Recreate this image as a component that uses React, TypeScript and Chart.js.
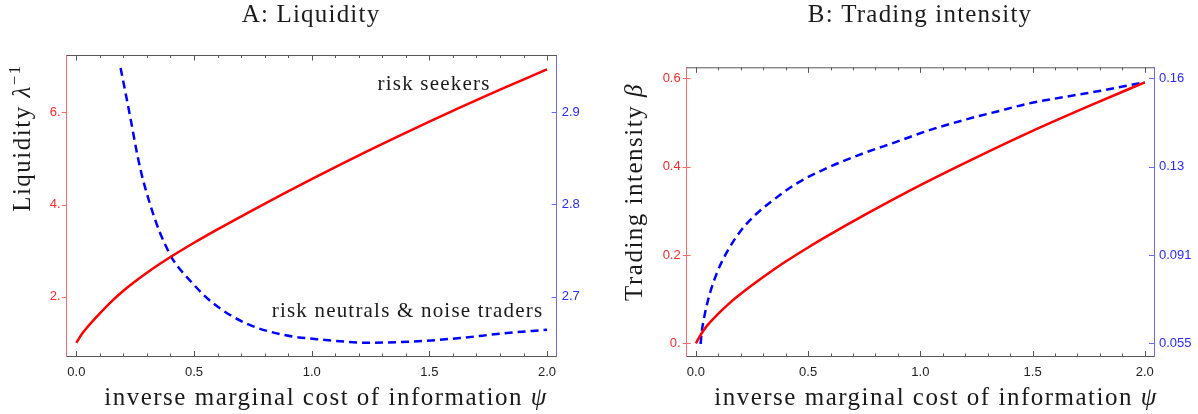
import React, { useEffect, useRef } from "react";
import { Chart, registerables } from "chart.js";

Chart.register(...registerables);

// ---------- shared ----------
const psiTickValues = [0, 0.5, 1, 1.5, 2];
const psiTickLabels = ["0.0", "0.5", "1.0", "1.5", "2.0"];

// ---------- Panel A: Liquidity ----------
const liqSeekersPsi = [0, 0.025, 0.05, 0.1, 0.15, 0.2, 0.3, 0.4, 0.5, 0.6, 0.75, 1.0, 1.25, 1.5, 1.75, 2.0];
const liqSeekers = [1.0, 1.2, 1.36, 1.64, 1.9, 2.13, 2.52, 2.86, 3.17, 3.46, 3.88, 4.55, 5.19, 5.8, 6.38, 6.93];
const liqNeutralPsi = [0.188, 0.212, 0.234, 0.255, 0.276, 0.297, 0.326, 0.354, 0.382, 0.403, 0.495, 0.58, 0.72, 0.89, 1.06, 1.23, 1.415, 1.63, 1.81, 2.0];
const liqNeutral = [2.948, 2.917, 2.888, 2.859, 2.834, 2.814, 2.79, 2.77, 2.754, 2.743, 2.714, 2.693, 2.671, 2.658, 2.653, 2.65, 2.651, 2.655, 2.66, 2.664];
const liqRedTickValues = [2, 4, 6];
const liqRedTickLabels = ["2.", "4.", "6."];
const liqBlueTickValues = [2.7, 2.8, 2.9];
const liqBlueTickLabels = ["2.7", "2.8", "2.9"];

// ---------- Panel B: Trading intensity ----------
const tiSeekersPsi = [0, 0.025, 0.05, 0.1, 0.15, 0.2, 0.3, 0.4, 0.5, 0.6, 0.75, 1.0, 1.25, 1.5, 1.75, 2.0];
const tiSeekers = [0, 0.022, 0.04, 0.067, 0.091, 0.112, 0.15, 0.185, 0.217, 0.247, 0.29, 0.358, 0.421, 0.481, 0.537, 0.591];
const tiNeutralPsi = [0.021, 0.025, 0.04, 0.062, 0.092, 0.122, 0.151, 0.196, 0.255, 0.344, 0.448, 0.596, 0.745, 0.893, 1.041, 1.19, 1.338, 1.486, 1.635, 1.783, 2.0];
const tiNeutral = [0.0547, 0.0588, 0.067, 0.0752, 0.0833, 0.0894, 0.0942, 0.1004, 0.1065, 0.1133, 0.1201, 0.1269, 0.1324, 0.1371, 0.1419, 0.1459, 0.1494, 0.1528, 0.1553, 0.1576, 0.1614];
const tiRedTickValues = [0, 0.2, 0.4, 0.6];
const tiRedTickLabels = ["0.", "0.2", "0.4", "0.6"];
const tiBlueTickValues = [0.055, 0.091, 0.127, 0.163];
const tiBlueTickLabels = ["0.055", "0.091", "0.13", "0.16"];

// ---------- styling ----------
const SERIF = '"Liberation Serif", "DejaVu Serif", serif';
const SANS = '"Liberation Sans", Arial, sans-serif';
const RED = "rgb(255,0,0)";
const BLUE = "rgb(0,0,255)";
const RED_AXIS = "rgb(255,105,105)";
const BLUE_AXIS = "rgb(105,105,255)";
const RED_TEXT = "rgb(255,40,40)";
const BLUE_TEXT = "rgb(40,40,255)";
const FRAME = "#555555";
const TEXT = "#1a1a1a";

type Run = { text: string; font: string; dy?: number };

function drawRich(ctx: CanvasRenderingContext2D, runs: Run[], cx: number, y: number, spacing: number) {
  ctx.letterSpacing = spacing + "px";
  let w = 0;
  const widths = runs.map((r) => {
    ctx.font = r.font;
    const m = ctx.measureText(r.text).width;
    w += m;
    return m;
  });
  let x = cx - w / 2;
  ctx.textAlign = "left";
  ctx.textBaseline = "alphabetic";
  runs.forEach((r, i) => {
    ctx.font = r.font;
    ctx.fillText(r.text, x, y + (r.dy || 0));
    x += widths[i];
  });
  ctx.letterSpacing = "0px";
}

type Ann = { text: string; x: number; y: number };

type PanelCfg = {
  title: string;
  titleX: number;
  xTitle: Run[];
  xTitleX: number;
  yTitle: Run[];
  yTitleX: number;
  yTitleY: number;
  seekersPsi: number[];
  seekers: number[];
  neutralPsi: number[];
  neutral: number[];
  yMin: number;
  yMax: number;
  y2Min: number;
  y2Max: number;
  redTicks: number[];
  redLabels: string[];
  blueTicks: number[];
  blueLabels: string[];
  top: number;
  leftW: number;
  rightW: number;
  redTickIn: number;
  redTickOut: number;
  annotations: Ann[];
};

const AX_FONT = 25;

const panelA: PanelCfg = {
  title: "A: Liquidity",
  titleX: 311,
  xTitle: [
    { text: "inverse marginal cost of information ", font: `${AX_FONT}px ${SERIF}` },
    { text: "ψ", font: `italic ${AX_FONT}px ${SERIF}` },
  ],
  xTitleX: 326,
  yTitle: [
    { text: "Liquidity ", font: `${AX_FONT}px ${SERIF}` },
    { text: "λ", font: `italic ${AX_FONT}px ${SERIF}` },
    { text: "−1", font: `17px ${SERIF}`, dy: -10 },
  ],
  yTitleX: 30,
  yTitleY: 138,
  seekersPsi: liqSeekersPsi,
  seekers: liqSeekers,
  neutralPsi: liqNeutralPsi,
  neutral: liqNeutral,
  yMin: 0.703,
  yMax: 7.243,
  y2Min: 2.635,
  y2Max: 2.962,
  redTicks: liqRedTickValues,
  redLabels: liqRedTickLabels,
  blueTicks: liqBlueTickValues,
  blueLabels: liqBlueTickLabels,
  top: 55,
  leftW: 66.7,
  rightW: 599 - 556.7,
  redTickIn: 0,
  redTickOut: 5,
  annotations: [
    { text: "risk seekers", x: 1.52, y: 6.48 },
    { text: "risk neutrals & noise traders", x: 1.407, y: 1.566 },
  ],
};

const panelB: PanelCfg = {
  title: "B: Trading intensity",
  titleX: 321,
  xTitle: [
    { text: "inverse marginal cost of information ", font: `${AX_FONT}px ${SERIF}` },
    { text: "ψ", font: `italic ${AX_FONT}px ${SERIF}` },
  ],
  xTitleX: 337,
  yTitle: [
    { text: "Trading intensity ", font: `${AX_FONT}px ${SERIF}` },
    { text: "β", font: `italic ${AX_FONT}px ${SERIF}` },
  ],
  yTitleX: 43,
  yTitleY: 192,
  seekersPsi: tiSeekersPsi,
  seekers: tiSeekers,
  neutralPsi: tiNeutralPsi,
  neutral: tiNeutral,
  yMin: -0.03,
  yMax: 0.625,
  y2Min: 0.0496,
  y2Max: 0.1675,
  redTicks: tiRedTickValues,
  redLabels: tiRedTickLabels,
  blueTicks: tiBlueTickValues,
  blueLabels: tiBlueTickLabels,
  top: 67.3,
  leftW: 686.7 - 599,
  rightW: 1198 - 1154,
  redTickIn: 4,
  redTickOut: 4,
  annotations: [],
};

function labelFor(values: number[], labels: string[], v: number) {
  const i = values.findIndex((t) => Math.abs(t - v) < 1e-9);
  return i >= 0 ? labels[i] : "";
}

function makeChart(canvas: HTMLCanvasElement, cfg: PanelCfg) {
  const decor = {
    id: "decor",
    afterDraw(chart: any) {
      const { ctx, chartArea: a, scales } = chart;
      const xs = scales.x;
      const y = scales.y;
      const y2 = scales.y2;
      ctx.save();
      // top frame line
      ctx.strokeStyle = FRAME;
      ctx.lineWidth = 1;
      ctx.beginPath();
      ctx.moveTo(a.left, a.top + 0.5);
      ctx.lineTo(a.right, a.top + 0.5);
      ctx.stroke();
      // x ticks (inside, top and bottom)
      for (let i = 0; i <= 20; i++) {
        const v = i / 10;
        const px = Math.round(xs.getPixelForValue(v)) + 0.5;
        const len = i % 5 === 0 ? 5.5 : 3;
        ctx.beginPath();
        ctx.moveTo(px, a.bottom);
        ctx.lineTo(px, a.bottom - len);
        ctx.moveTo(px, a.top);
        ctx.lineTo(px, a.top + len);
        ctx.stroke();
      }
      // red y ticks
      ctx.strokeStyle = RED_AXIS;
      cfg.redTicks.forEach((v) => {
        const py = Math.round(y.getPixelForValue(v)) + 0.5;
        ctx.beginPath();
        ctx.moveTo(a.left - cfg.redTickOut, py);
        ctx.lineTo(a.left + cfg.redTickIn, py);
        ctx.stroke();
      });
      // blue y ticks (inside)
      ctx.strokeStyle = BLUE_AXIS;
      cfg.blueTicks.forEach((v) => {
        const py = Math.round(y2.getPixelForValue(v)) + 0.5;
        ctx.beginPath();
        ctx.moveTo(a.right - 5, py);
        ctx.lineTo(a.right, py);
        ctx.stroke();
      });
      // titles
      ctx.fillStyle = TEXT;
      drawRich(ctx, [{ text: cfg.title, font: `${AX_FONT}px ${SERIF}` }], cfg.titleX, 22, 1.2);
      drawRich(ctx, cfg.xTitle, cfg.xTitleX, 405, 1.5);
      ctx.save();
      ctx.translate(cfg.yTitleX, cfg.yTitleY);
      ctx.rotate(-Math.PI / 2);
      drawRich(ctx, cfg.yTitle, 0, 0, 1.5);
      ctx.restore();
      // annotations
      cfg.annotations.forEach((an) => {
        drawRich(
          ctx,
          [{ text: an.text, font: `21px ${SERIF}` }],
          xs.getPixelForValue(an.x),
          y.getPixelForValue(an.y),
          1.2
        );
      });
      ctx.restore();
    },
  };

  return new Chart(canvas, {
    type: "line",
    data: {
      datasets: [
        {
          data: cfg.seekersPsi.map((x, i) => ({ x, y: cfg.seekers[i] })),
          yAxisID: "y",
          borderColor: RED,
          borderWidth: 2.5,
          pointRadius: 0,
          fill: false,
          cubicInterpolationMode: "monotone",
        },
        {
          data: cfg.neutralPsi.map((x, i) => ({ x, y: cfg.neutral[i] })),
          yAxisID: "y2",
          borderColor: BLUE,
          borderWidth: 2.5,
          borderDash: [8, 5],
          pointRadius: 0,
          fill: false,
          cubicInterpolationMode: "monotone",
        },
      ],
    },
    options: {
      responsive: false,
      maintainAspectRatio: false,
      animation: false,
      events: [],
      layout: { padding: { top: cfg.top, left: 0, right: 0, bottom: 0 } },
      plugins: {
        legend: { display: false },
        tooltip: { enabled: false },
        title: { display: false },
      },
      scales: {
        x: {
          type: "linear",
          min: -0.041,
          max: 2.041,
          grid: { display: false, drawTicks: false },
          border: { display: true, color: FRAME, width: 1 },
          afterBuildTicks: (s: any) => {
            s.ticks = psiTickValues.map((value) => ({ value }));
          },
          ticks: {
            autoSkip: false,
            maxRotation: 0,
            padding: 8,
            color: "#222",
            font: { family: SANS, size: 13 },
            callback: (v: any) => labelFor(psiTickValues, psiTickLabels, Number(v)),
          },
          afterFit: (s: any) => {
            s.height = 414 - 356.5;
          },
        },
        y: {
          type: "linear",
          position: "left",
          min: cfg.yMin,
          max: cfg.yMax,
          grid: { display: false, drawTicks: false },
          border: { display: true, color: RED_AXIS, width: 1 },
          afterBuildTicks: (s: any) => {
            s.ticks = cfg.redTicks.map((value) => ({ value }));
          },
          ticks: {
            autoSkip: false,
            padding: 6,
            color: RED_TEXT,
            font: { family: SANS, size: 13 },
            callback: (v: any) => labelFor(cfg.redTicks, cfg.redLabels, Number(v)),
          },
          afterFit: (s: any) => {
            s.width = cfg.leftW;
          },
        },
        y2: {
          type: "linear",
          position: "right",
          min: cfg.y2Min,
          max: cfg.y2Max,
          grid: { display: false, drawTicks: false },
          border: { display: true, color: BLUE_AXIS, width: 1 },
          afterBuildTicks: (s: any) => {
            s.ticks = cfg.blueTicks.map((value) => ({ value }));
          },
          ticks: {
            autoSkip: false,
            padding: 5,
            color: BLUE_TEXT,
            font: { family: SANS, size: 13 },
            callback: (v: any) => labelFor(cfg.blueTicks, cfg.blueLabels, Number(v)),
          },
          afterFit: (s: any) => {
            s.width = cfg.rightW;
          },
        },
      },
    } as any,
    plugins: [decor],
  });
}

function Panel({ cfg, left }: { cfg: PanelCfg; left: number }) {
  const ref = useRef<HTMLCanvasElement>(null);
  useEffect(() => {
    if (!ref.current) return;
    const chart = makeChart(ref.current, cfg);
    return () => chart.destroy();
  }, [cfg]);
  return (
    <canvas
      ref={ref}
      width={599}
      height={414}
      style={{ position: "absolute", left, top: 0, width: 599, height: 414 }}
    />
  );
}

export default function App() {
  return (
    <div
      style={{
        position: "absolute",
        left: 0,
        top: 0,
        width: 1198,
        height: 414,
        background: "#ffffff",
        overflow: "hidden",
      }}
    >
      <Panel cfg={panelA} left={0} />
      <Panel cfg={panelB} left={599} />
    </div>
  );
}
